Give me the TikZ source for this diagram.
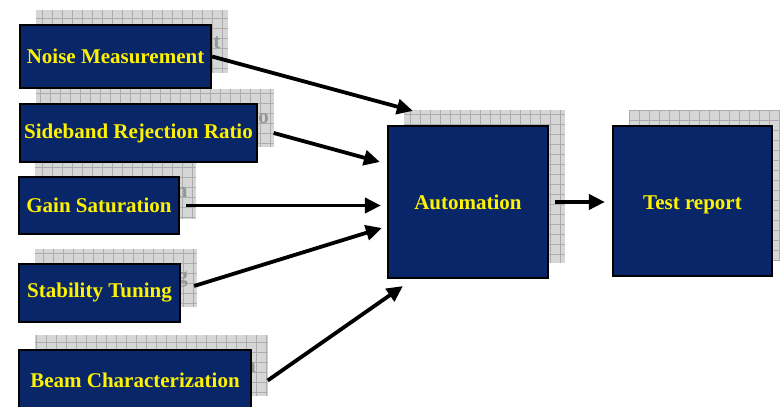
\documentclass[tikz,border=0pt]{standalone}
\usepackage{fontspec}
\setmainfont{Liberation Serif}
\usetikzlibrary{positioning,arrows.meta,backgrounds}

\definecolor{navy}{RGB}{9,39,104}
\definecolor{shadowgray}{RGB}{214,214,214}
\definecolor{gridgray}{RGB}{172,172,172}
\definecolor{ghost}{RGB}{150,150,150}

\begin{document}
\begin{tikzpicture}[
    x=1pt, y=1pt,
    block/.style={rectangle, draw=black, line width=2.2pt, fill=navy,
                  text=yellow, inner sep=0pt,
                  font=\fontsize{21}{24}\selectfont\bfseries},
    backdrop/.style={rectangle, fill=shadowgray, text=ghost, inner sep=0pt,
                  font=\fontsize{21}{24}\selectfont\bfseries,
                  path picture={\draw[gridgray, line width=0.8pt, step=10pt]
                      (path picture bounding box.south west) grid
                      (path picture bounding box.north east);}},
    arr/.style={-{Triangle[length=16pt, width=15pt]}, line width=3.8pt}
]
\clip (0,0) rectangle (780,407);

% measurement boxes on the left
\node[block, minimum width=191pt, minimum height=63pt] (noise) at (115.5,350.5) {Noise Measurement};
\node[block, minimum width=237pt, minimum height=58pt] (sideband) at (138.5,274) {Sideband Rejection Ratio};
\node[block, minimum width=160pt, minimum height=57pt] (gain) at (99,201.5) {Gain Saturation};
\node[block, minimum width=161pt, minimum height=58pt] (stability) at (99.5,114) {Stability Tuning};
\node[block, minimum width=232pt, minimum height=61pt] (beam) at (135,26.5) {Beam Characterization};

% automation and report
\node[block, minimum width=160pt, minimum height=152pt] (autom) at (468,205) {Automation};
\node[block, minimum width=159pt, minimum height=150pt] (report) at (692.5,206) {\raisebox{-4pt}[\height][\depth]{Test report}};

% drop shadows behind every box
\begin{scope}[on background layer]
\node[backdrop, minimum width=192pt, minimum height=63pt] (noisesh) at ([shift={(16,15)}]noise.center) {Noise Measurement};
\node[backdrop, minimum width=238pt, minimum height=58pt] (sidebandsh) at ([shift={(16,15)}]sideband.center) {Sideband Rejection Ratio};
\node[backdrop, minimum width=161pt, minimum height=57pt] (gainsh) at ([shift={(16,15)}]gain.center) {Gain Saturation};
\node[backdrop, minimum width=162pt, minimum height=58pt] (stabilitysh) at ([shift={(16,15)}]stability.center) {Stability Tuning};
\node[backdrop, minimum width=233pt, minimum height=61pt] (beamsh) at ([shift={(16,15)}]beam.center) {Beam Characterization};
\node[backdrop, minimum width=161pt, minimum height=153pt] (automsh) at ([shift={(16,15)}]autom.center) {Automation};
\node[backdrop, minimum width=160pt, minimum height=151pt] (reportsh) at ([shift={(16,15)}]report.center) {Test report};
\end{scope}

% arrows into automation
\draw[arr] (noise.east) -- ([shift={(26,14)}]autom.north west);
\draw[arr] (sideband.east -| sidebandsh.east) -- ([shift={(-7,40)}]autom.west);
\draw[arr] ([xshift=6pt]gain.east) -- ([xshift=-6pt]gain.east -| autom.west);
\draw[arr] ([shift={(13,7)}]stability.east) -- ([shift={(-5,-26)}]autom.west);
\draw[arr] (beam.east -| beamsh.east) -- ([shift={(16,-7)}]autom.south west);
\draw[arr] ([xshift=6pt]autom.east) -- ([xshift=-7pt]autom.east -| report.west);
\end{tikzpicture}
\end{document}
